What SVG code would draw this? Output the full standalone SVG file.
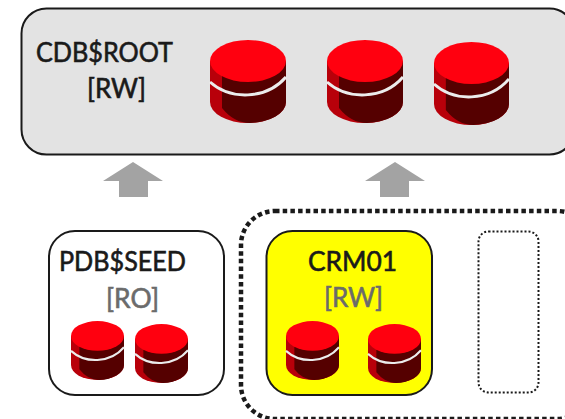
<svg xmlns="http://www.w3.org/2000/svg" width="565" height="419" viewBox="0 0 565 419">
<style>
.t{font-family:Lato,"Open Sans","Liberation Sans",sans-serif;font-size:26px;stroke-width:.6px}
.k{fill:#1a1a1a;stroke:#1a1a1a}
.g{fill:#6b6b6b;stroke:#6b6b6b}
.box{stroke:#1a1a1a;stroke-width:2}
.arrow{fill:#a3a3a3}
</style>
<defs>
<symbol id="cyl" viewBox="0 0 76 83" preserveAspectRatio="none" overflow="visible">
<path d="M0,21V62A38,21 0 0 0 76,62V21Z" fill="#b8000a"/>
<path d="M12,30V68Q24,83 40,83A38,21 0 0 0 76,62V21Z" fill="#550000"/>
<path d="M0,42C20,60 56,60 76,37" fill="none" stroke="#ececec" stroke-width="3"/>
<ellipse cx="38" cy="21" rx="38" ry="21" fill="#ff000f"/>
</symbol>
</defs>
<g id="connectors">
<path class="arrow" d="M133,162L163,181H148V197H119V181H103Z"/>
<path class="arrow" d="M395,162L425,181H409V197H380V181H365Z"/>
</g>
<g id="cdbroot">
<rect class="box" x="21.500" y="8.500" width="553" height="146" rx="25" fill="#e3e3e3"/>
<text class="t k" x="36" y="62" textLength="137" lengthAdjust="spacingAndGlyphs">CDB$ROOT</text>
<text class="t k" x="87" y="98" textLength="59" lengthAdjust="spacingAndGlyphs">[RW]</text>
<use href="#cyl" x="210" y="40" width="76" height="83"/>
<use href="#cyl" x="327" y="40" width="76" height="83"/>
<use href="#cyl" x="434" y="42" width="75" height="83"/>
</g>
<g id="pdbseed">
<rect class="box" x="49" y="231" width="175" height="164" rx="26" fill="#fff"/>
<text class="t k" x="59" y="271" textLength="127" lengthAdjust="spacingAndGlyphs">PDB$SEED</text>
<text class="t g" x="106" y="308" textLength="53" lengthAdjust="spacingAndGlyphs">[RO]</text>
<use href="#cyl" x="71" y="321" width="53" height="59"/>
<use href="#cyl" x="135" y="324" width="53" height="59"/>
</g>
<g id="container">
<rect x="241" y="211" width="350" height="208" rx="34" fill="none" stroke="#1a1a1a" stroke-width="4.500" stroke-dasharray="4.500 3.200"/>
</g>
<g id="crm01">
<rect class="box" x="266.500" y="231" width="165.500" height="164" rx="26" fill="#ff0"/>
<text class="t k" x="308" y="271" textLength="89" lengthAdjust="spacingAndGlyphs">CRM01</text>
<text class="t g" x="324" y="307" textLength="59" lengthAdjust="spacingAndGlyphs">[RW]</text>
<use href="#cyl" x="286" y="321" width="53" height="59"/>
<use href="#cyl" x="368" y="324" width="53" height="59"/>
</g>
<g id="empty">
<rect x="478.500" y="231.500" width="60" height="161" rx="10" fill="none" stroke="#1a1a1a" stroke-width="2" stroke-dasharray="2 2"/>
</g>
</svg>
